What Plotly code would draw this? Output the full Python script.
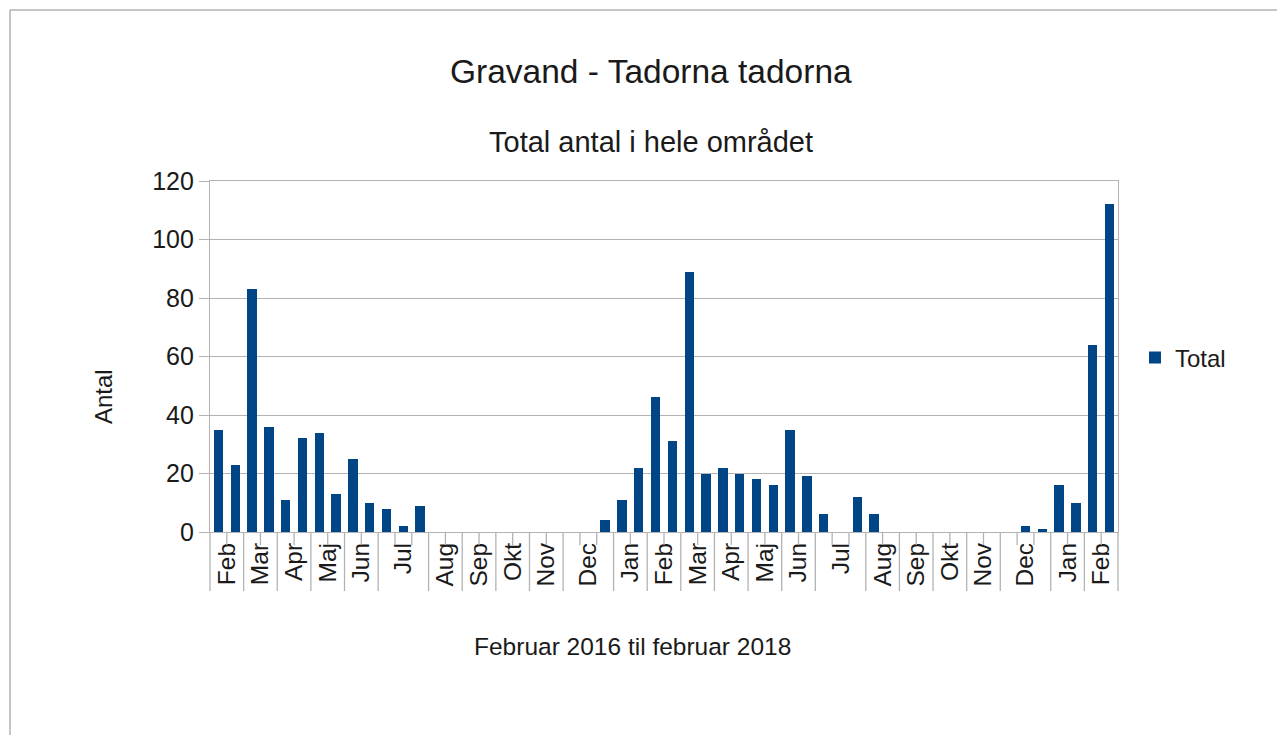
import plotly.graph_objects as go

# ---- data ----
values = [35, 23, 83, 36, 11, 32, 34, 13, 25, 10, 8, 2, 9,
          0, 0, 0, 0, 0, 0, 0, 0, 0, 0, 4,
          11, 22, 46, 31, 89, 20, 22, 20, 18, 16, 35, 19, 6, 0, 12, 6,
          0, 0, 0, 0, 0, 0, 0, 0, 2, 1, 16, 10, 64, 112]
month_labels = ["Feb", "Mar", "Apr", "Maj", "Jun", "Jul", "Aug", "Sep", "Okt", "Nov", "Dec",
                "Jan", "Feb", "Mar", "Apr", "Maj", "Jun", "Jul", "Aug", "Sep", "Okt", "Nov", "Dec",
                "Jan", "Feb"]
group_sizes = [2, 2, 2, 2, 2, 3, 2, 2, 2, 2, 3,
               2, 2, 2, 2, 2, 2, 3, 2, 2, 2, 2, 3,
               2, 2]
series_name = "Total"

W, H = 1285, 735
OFF = 8  # page body margin offset
L, R, T, B = 210 - OFF, 167 + OFF, 181 - OFF, 203 + OFF
PW, PH = W - L - R, H - T - B
FONT = "Liberation Sans"
GRID = "#b3b3b3"
TXT = "#1a1a1a"


def xp(px):
    return (px - OFF - L) / PW


def yp(py):
    return (H - B - (py - OFF)) / PH


n = len(values)
x = list(range(n))

# group centers and boundaries
tickvals, bounds, inner = [], [0], []
start = 0
for s in group_sizes:
    tickvals.append(start + s / 2 - 0.5)
    for k in range(1, s):
        inner.append(start + k)
    start += s
    bounds.append(start)

fig = go.Figure()
fig.add_trace(go.Bar(x=x, y=values, name=series_name, width=0.56,
                     marker=dict(color="#004586", line=dict(width=0)),
                     showlegend=True))

shapes = []
long_y = yp(591)
short_y = yp(545)
for b in bounds:
    shapes.append(dict(type="line", xref="paper", yref="paper",
                       x0=b / n, x1=b / n, y0=0, y1=long_y,
                       line=dict(color=GRID, width=1.3)))
for b in inner:
    shapes.append(dict(type="line", xref="paper", yref="paper",
                       x0=b / n, x1=b / n, y0=0, y1=short_y,
                       line=dict(color=GRID, width=1.3)))
# outer frame
shapes.append(dict(type="rect", xref="paper", yref="paper",
                   x0=xp(10), x1=xp(1283), y0=yp(760), y1=yp(10),
                   line=dict(color="#8c8c8c", width=1), fillcolor="rgba(0,0,0,0)"))

annotations = [
    dict(text="Gravand - Tadorna tadorna", x=xp(651), y=yp(72), xref="paper", yref="paper",
         showarrow=False, xanchor="center", yanchor="middle", font=dict(size=33.5, color=TXT, family=FONT)),
    dict(text="Total antal i hele området", x=xp(651), y=yp(142), xref="paper", yref="paper",
         showarrow=False, xanchor="center", yanchor="middle", font=dict(size=29, color=TXT, family=FONT)),
    dict(text="Februar 2016 til februar 2018", x=xp(632), y=yp(646), xref="paper", yref="paper",
         showarrow=False, xanchor="center", yanchor="middle", font=dict(size=24.5, color=TXT, family=FONT)),
    dict(text="Antal", x=xp(103), y=yp(397), xref="paper", yref="paper", textangle=-90,
         showarrow=False, xanchor="center", yanchor="middle", font=dict(size=24, color=TXT, family=FONT)),
]

fig.update_layout(
    width=W, height=H,
    margin=dict(l=L, r=R, t=T, b=B, autoexpand=False),
    paper_bgcolor="white", plot_bgcolor="white",
    font=dict(family=FONT, size=24, color=TXT),
    shapes=shapes, annotations=annotations,
    bargap=0,
    legend=dict(x=xp(1135), y=yp(358), xanchor="left", yanchor="middle",
                font=dict(size=24, color=TXT, family=FONT), bgcolor="rgba(0,0,0,0)"),
    xaxis=dict(range=[-0.5, n - 0.5], tickmode="array", tickvals=tickvals, ticktext=month_labels,
               tickangle=-90, ticks="", showgrid=False, zeroline=False,
               showline=True, mirror=True, linecolor=GRID, linewidth=1.3,
               tickfont=dict(size=24.5, color=TXT, family=FONT)),
    yaxis=dict(range=[0, 120], tickmode="linear", tick0=0, dtick=20,
               showgrid=True, gridcolor=GRID, gridwidth=1.3, zeroline=False,
               ticks="outside", ticklen=10, tickcolor=GRID, tickwidth=1.3,
               showline=True, mirror=True, linecolor=GRID, linewidth=1.3,
               tickfont=dict(size=25, color=TXT, family=FONT)),
)

fig.write_html("out.html")
